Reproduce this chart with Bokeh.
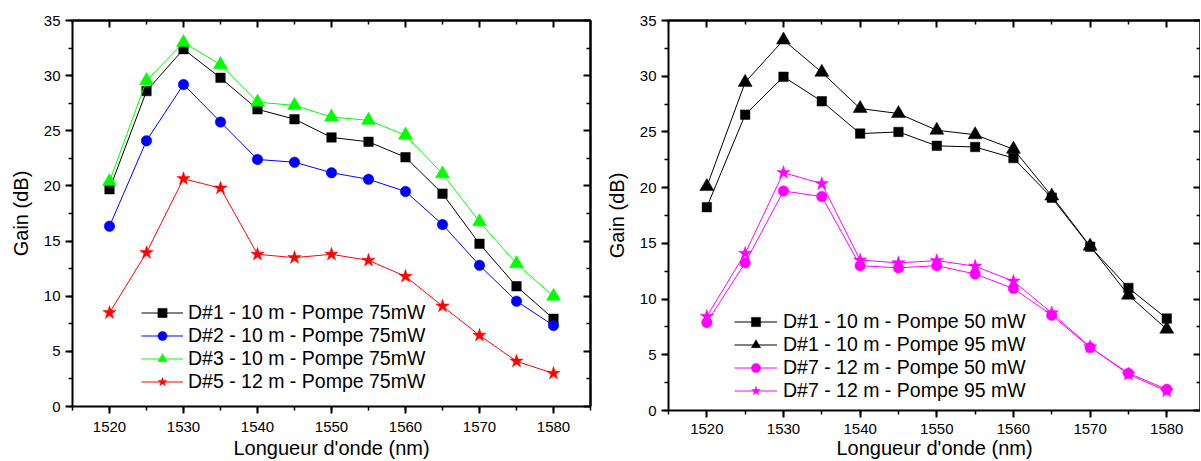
from bokeh.plotting import figure
from bokeh.models import (Range1d, LinearAxis, SingleIntervalTicker, FixedTicker,
                          Legend, LegendItem)
from bokeh.layouts import row
from bokeh.embed import file_html
from bokeh.resources import INLINE

FONT = "Liberation Sans"

# Wavelengths (nm)
wavelength = [1520, 1525, 1530, 1535, 1540, 1545, 1550, 1555, 1560, 1565, 1570, 1575, 1580]

# Left panel: gain (dB) at 75 mW pump
d1_10m_75 = [19.7, 28.6, 32.4, 29.8, 26.95, 26.05, 24.4, 24.0, 22.6, 19.3, 14.75, 10.9, 7.95]
d2_10m_75 = [16.35, 24.1, 29.2, 25.8, 22.4, 22.15, 21.2, 20.6, 19.5, 16.5, 12.8, 9.55, 7.35]
d3_10m_75 = [20.4, 29.55, 33.0, 31.0, 27.6, 27.3, 26.25, 25.95, 24.6, 21.1, 16.75, 12.95, 10.0]
d5_12m_75 = [8.5, 13.95, 20.65, 19.8, 13.8, 13.5, 13.8, 13.25, 11.8, 9.1, 6.45, 4.1, 3.0]

# Right panel: gain (dB) at 50 mW and 95 mW pump
d1_10m_50 = [18.25, 26.55, 29.95, 27.75, 24.85, 25.0, 23.75, 23.65, 22.65, 19.1, 14.7, 11.0, 8.25]
d1_10m_95 = [20.1, 29.45, 33.25, 30.35, 27.1, 26.65, 25.15, 24.75, 23.45, 19.25, 14.75, 10.35, 7.3]
d7_12m_50 = [7.9, 13.25, 19.7, 19.2, 13.0, 12.8, 13.0, 12.25, 10.95, 8.55, 5.65, 3.35, 1.9]
d7_12m_95 = [8.45, 14.1, 21.35, 20.35, 13.5, 13.25, 13.45, 12.95, 11.6, 8.75, 5.7, 3.25, 1.75]

left_labels = ["D#1 - 10 m - Pompe 75mW", "D#2 - 10 m - Pompe 75mW",
               "D#3 - 10 m - Pompe 75mW", "D#5 - 12 m - Pompe 75mW"]
right_labels = ["D#1 - 10 m - Pompe 50 mW", "D#1 - 10 m - Pompe 95 mW",
                "D#7 - 12 m - Pompe 50 mW", "D#7 - 12 m - Pompe 95 mW"]

x_title = "Longueur d'onde (nm)"
y_title = "Gain (dB)"

# Tick layout
x_major_ticks = [1520, 1530, 1540, 1550, 1560, 1570, 1580]
x_minor_ticks = [1515, 1525, 1535, 1545, 1555, 1565, 1575, 1585]
y_major_ticks = [0, 5, 10, 15, 20, 25, 30, 35]
y_minor_ticks = [2.5, 7.5, 12.5, 17.5, 22.5, 27.5, 32.5]

MARKER_SIZE = {"square": 9.5, "circle": 10.5, "triangle": 14, "star": 14}


def style_line(ax):
    ax.axis_line_width = 2
    ax.axis_line_color = "black"
    ax.major_tick_line_width = 2
    ax.minor_tick_line_color = "black"
    ax.major_tick_line_color = "black"


def mirror_axis(positions, length, width):
    # Unlabelled axis on the opposite side, ticks pointing into the frame
    ax = LinearAxis(ticker=FixedTicker(ticks=[], minor_ticks=positions))
    style_line(ax)
    ax.minor_tick_in, ax.minor_tick_out = length, 0
    ax.major_tick_in, ax.major_tick_out = 0, 0
    ax.minor_tick_line_width = width
    ax.major_label_standoff = 0
    return ax


def make_panel(series, x_end, frame_w, frame_h, border_left, border_top,
               border_right, legend_loc, glyph_w, row_h, standoff,
               x_tick_standoff, x_label_standoff):
    p = figure(x_range=Range1d(1515, x_end), y_range=Range1d(0, 35),
               frame_width=frame_w, frame_height=frame_h,
               min_border_left=border_left, min_border_right=border_right,
               min_border_top=border_top, min_border_bottom=461 - border_top - frame_h,
               x_axis_label=x_title, y_axis_label=y_title,
               output_backend="svg", toolbar_location=None)
    p.xgrid.visible = False
    p.ygrid.visible = False
    p.outline_line_color = None
    p.background_fill_color = "white"
    p.border_fill_color = "white"

    p.xaxis.ticker = SingleIntervalTicker(interval=10, num_minor_ticks=2)
    p.yaxis.ticker = SingleIntervalTicker(interval=5, num_minor_ticks=2)
    for ax in (p.xaxis[0], p.yaxis[0]):
        style_line(ax)
        ax.minor_tick_line_width = 1.5
        ax.major_tick_in, ax.major_tick_out = 0, 7
        ax.minor_tick_in, ax.minor_tick_out = 0, 4
        ax.major_label_text_font = FONT
        ax.major_label_text_font_size = "15px"
        ax.major_label_text_color = "black"
        ax.axis_label_text_font = FONT
        ax.axis_label_text_font_size = "20px"
        ax.axis_label_text_font_style = "normal"
        ax.axis_label_text_color = "black"
    p.xaxis.major_label_standoff = x_tick_standoff
    p.xaxis.axis_label_standoff = x_label_standoff
    p.yaxis.major_label_standoff = 5
    p.yaxis.axis_label_standoff = 9

    p.add_layout(mirror_axis(x_major_ticks, 7, 2), "above")
    p.add_layout(mirror_axis(x_minor_ticks, 4, 1.5), "above")
    p.add_layout(mirror_axis(y_major_ticks, 7, 2), "right")
    p.add_layout(mirror_axis(y_minor_ticks, 4, 1.5), "right")

    items = []
    for label, values, color, marker in series:
        ln = p.line(wavelength, values, line_color=color, line_width=1)
        sc = p.scatter(wavelength, values, marker=marker, size=MARKER_SIZE[marker],
                       fill_color=color, line_color=color, line_width=0.5)
        items.append(LegendItem(label=label, renderers=[ln, sc]))

    legend = Legend(items=items, location=legend_loc, glyph_width=glyph_w,
                    glyph_height=row_h, label_height=row_h, spacing=0,
                    padding=0, margin=0, label_standoff=standoff,
                    label_text_font=FONT, label_text_font_size="19.5px",
                    label_text_color="black",
                    background_fill_alpha=0, border_line_alpha=0)
    p.add_layout(legend)
    return p


left = make_panel(
    [(left_labels[0], d1_10m_75, "#000000", "square"),
     (left_labels[1], d2_10m_75, "#0000FF", "circle"),
     (left_labels[2], d3_10m_75, "#00FF00", "triangle"),
     (left_labels[3], d5_12m_75, "#FF0000", "star")],
    x_end=1585, frame_w=518, frame_h=386, border_left=72, border_top=20,
    border_right=10, legend_loc=(69, 13), glyph_w=42, row_h=23, standoff=5,
    x_tick_standoff=8, x_label_standoff=2)

right = make_panel(
    [(right_labels[0], d1_10m_50, "#000000", "square"),
     (right_labels[1], d1_10m_95, "#000000", "triangle"),
     (right_labels[2], d7_12m_50, "#FF00FF", "circle"),
     (right_labels[3], d7_12m_95, "#FF00FF", "star")],
    x_end=1584.4, frame_w=532, frame_h=390, border_left=68, border_top=17,
    border_right=0, legend_loc=(66, 8), glyph_w=43, row_h=23, standoff=6,
    x_tick_standoff=6, x_label_standoff=0)

layout = row(left, right)
open("out.html", "w").write(file_html(layout, INLINE))
